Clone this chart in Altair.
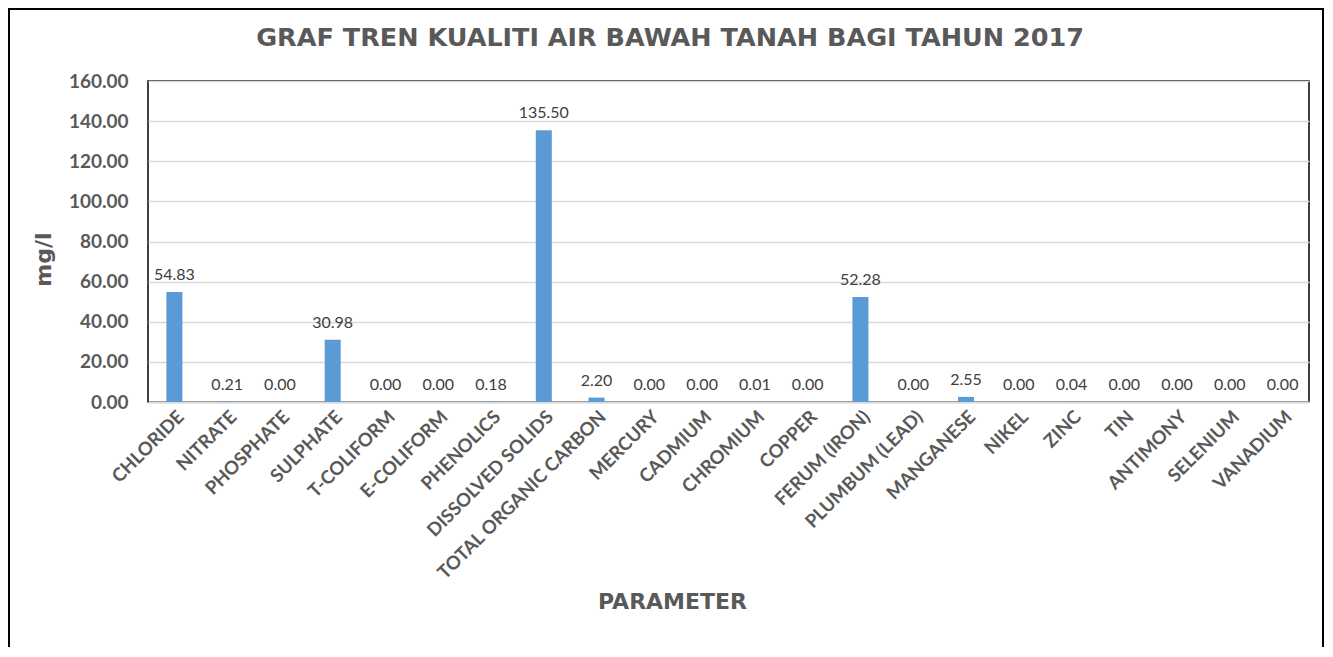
import altair as alt
import pandas as pd

categories = ["CHLORIDE", "NITRATE", "PHOSPHATE", "SULPHATE", "T-COLIFORM", "E-COLIFORM",
              "PHENOLICS", "DISSOLVED SOLIDS", "TOTAL ORGANIC CARBON", "MERCURY", "CADMIUM",
              "CHROMIUM", "COPPER", "FERUM (IRON)", "PLUMBUM (LEAD)", "MANGANESE", "NIKEL",
              "ZINC", "TIN", "ANTIMONY", "SELENIUM", "VANADIUM"]
values = [54.83, 0.21, 0.00, 30.98, 0.00, 0.00, 0.18, 135.50, 2.20, 0.00, 0.00,
          0.01, 0.00, 52.28, 0.00, 2.55, 0.00, 0.04, 0.00, 0.00, 0.00, 0.00]
y_ticks = [0, 20, 40, 60, 80, 100, 120, 140, 160]
title_text = "GRAF TREN KUALITI AIR BAWAH TANAH BAGI TAHUN 2017"

df = pd.DataFrame({"param": categories, "val": values})

W, H = 1161, 321
GRAY = "#595959"

x = alt.X("param:N", sort=categories, title="PARAMETER",
          scale=alt.Scale(paddingInner=0.7, paddingOuter=0.35),
          axis=alt.Axis(labelAngle=-45, labelFont="Lato", labelFontWeight="bold",
                        labelFontSize=18.5, labelColor=GRAY, labelPadding=5,
                        labelLimit=400,
                        ticks=False, domainColor="#d9d9d9", domainWidth=2,
                        titleFont="DejaVu Sans", titleFontSize=22, titleFontWeight="bold",
                        titleColor=GRAY, titleX=524, titleY=199, titleAlign="center",
                        titleBaseline="middle"))
y = alt.Y("val:Q", title="mg/l",
          scale=alt.Scale(domain=[0, 160], nice=False),
          axis=alt.Axis(values=y_ticks, format=".2f", labelFont="Lato",
                        labelFontWeight="bold", labelFontSize=19, labelColor=GRAY,
                        labelPadding=20, ticks=False, domain=False,
                        gridColor="#d9d9d9", gridWidth=1.5,
                        titleFont="DejaVu Sans", titleFontSize=22,
                        titleFontWeight="bold", titleColor=GRAY,
                        titleX=-105, titleY=178, titleAngle=-90,
                        titleAlign="center", titleBaseline="middle"))

bars = alt.Chart(df).mark_bar(color="#5b9bd5", size=16).encode(x=x, y=y)
labels = alt.Chart(df).mark_text(font="Lato", fontSize=16, color="#404040",
                                 baseline="bottom", dy=-9).encode(
    x=alt.X("param:N", sort=categories),
    y="val:Q",
    text=alt.Text("val:Q", format=".2f"))

one = pd.DataFrame({"t": [title_text]})
title = alt.Chart(one).mark_text(font="DejaVu Sans", fontSize=25.5, fontWeight="bold",
                                 color=GRAY, align="center", baseline="alphabetic").encode(
    x=alt.value(522), y=alt.value(-35), text="t:N")

frame = alt.Chart(one).mark_rect(
    filled=False, stroke="black", strokeWidth=2).encode(
    x=alt.value(-139), x2=alt.value(1175), y=alt.value(-72), y2=alt.value(700))

chart = alt.layer(bars, labels, title, frame).properties(
    width=W, height=H,
    autosize=alt.AutoSizeParams(type="none"),
    padding={"left": 140, "top": 73, "right": 16, "bottom": 245},
).configure_view(stroke="black", strokeWidth=1.5)

chart.save("out.html", embed_options={"renderer": "svg", "actions": False})
